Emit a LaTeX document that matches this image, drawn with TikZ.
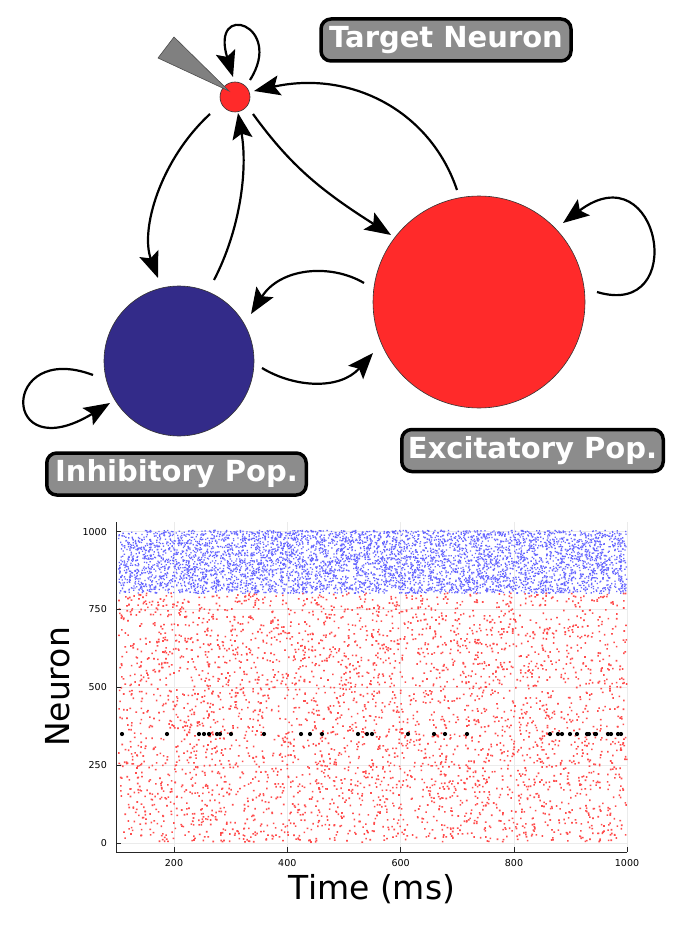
\documentclass[tikz,border=0pt]{standalone}
\usepackage{fontspec}
\setmainfont{DejaVu Sans}
\newfontfamily\labfont{DejaVu Sans Bold}
\usetikzlibrary{arrows.meta}
\definecolor{nred}{RGB}{255,42,42}
\definecolor{nblue}{RGB}{51,43,137}
\definecolor{labgray}{RGB}{140,140,140}
\definecolor{elgray}{RGB}{128,128,128}
\makeatletter
% draws #1 random squares of side #6 (pt) in x in [#2,#2+#3], y in [#4,#4+#5] (pixel coords, y down), colour #7 (rgb)
\newcommand\rasterchunk[7]{%
  \gdef\rc@acc{}%
  \foreach \rc@k in {1,...,#1}{%
    \pgfmathsetmacro\rc@x{(#2+#3*rnd)*0.99626}%
    \pgfmathsetmacro\rc@y{-(#4+#5*rnd)*0.99626}%
    \xdef\rc@acc{\rc@acc\space\rc@x\space\rc@y\space #6\space #6\space re}%
  }%
  \pgfsys@invoke{q #7 rg \rc@acc\space f Q}%
}
\makeatother
\tikzset{
  conn/.style={line width=2.2pt, -{Stealth[length=26pt,width=20pt,inset=5pt]}},
  poplabel/.style={draw=black, line width=3.5pt, fill=labgray, rounded corners=10pt,
    text=white, font=\labfont\fontsize{29}{31}\selectfont, inner sep=0pt,
    minimum height=42pt, align=center},
  popnode/.style={circle, draw=black!80, line width=0.6pt, inner sep=0pt},
  gridln/.style={draw=black!8, line width=0.6pt},
  ticklab/.style={font=\fontsize{9.5}{11}\selectfont, inner sep=0pt},
  axlab/.style={font=\fontsize{33}{36}\selectfont, inner sep=0pt}
}
\begin{document}
\begin{tikzpicture}[x=1pt,y=-1pt]
\useasboundingbox (0,0) rectangle (682,928);
\fill[white] (0,0) rectangle (682,928);

% ---------- network diagram ----------
\node[popnode, fill=nred, minimum size=30pt] (tn) at (235,97) {};
\node[popnode, fill=nred, minimum size=212pt] (exc) at (479,302) {};
\node[popnode, fill=nblue, minimum size=150pt] (inh) at (179,361) {};

% electrode
\filldraw[fill=elgray, draw=black!70, line width=0.6pt] (158,58) -- (174,37) -- (229,91) -- cycle;

% coordinates for connector ends
\coordinate (tnS1) at (250,80);   \coordinate (tnE1) at (233,77);
\coordinate (excT) at (457,190);  \coordinate (tnR)  at (254,91);
\coordinate (tnBR) at (253,114);  \coordinate (excTL) at (391,235);
\coordinate (tnBL) at (210,114);  \coordinate (inhT) at (158,278);
\coordinate (inhTR) at (214,280); \coordinate (tnB) at (238,113);
\coordinate (excL) at (364,283);  \coordinate (inhR) at (251,314);
\coordinate (inhBR) at (262,368); \coordinate (excBL) at (373,353);
\coordinate (excR) at (597,292);  \coordinate (excTR) at (563,223);
\coordinate (inhL) at (93,375);   \coordinate (inhBL) at (110,403);

\draw[conn] (tnS1) .. controls (285,25) and (210,0) .. (tnE1);
\draw[conn] (excT) .. controls (430,110) and (350,70) .. (tnR);
\draw[conn] (tnBR) .. controls (290,165) and (320,190) .. (excTL);
\draw[conn] (tnBL) .. controls (160,160) and (140,230) .. (inhT);
\draw[conn] (inhTR) .. controls (240,230) and (248,170) .. (tnB);
\draw[conn] (excL) .. controls (330,263) and (280,268) .. (inhR);
\draw[conn] (inhBR) .. controls (295,388) and (340,390) .. (excBL);
\draw[conn] (excR) .. controls (690,320) and (660,150) .. (excTR);
\draw[conn] (inhL) .. controls (0,340) and (0,470) .. (inhBL);

% labels
\node[poplabel, minimum width=250pt] (ltn) at (446,40) {Target Neuron};
\node[poplabel, minimum width=259.5pt] (linh) at (176.5,474) {Inhibitory Pop.};
\node[poplabel, minimum width=261.5pt] (lexc) at (532.5,450.5) {Excitatory Pop.};

% ---------- raster plot ----------
\foreach \gx in {174,287.3,400.7,514,627} \draw[gridln] (\gx,522) -- (\gx,852);
\foreach \gy in {843,765,687,609,531} \draw[gridln] (116,\gy) -- (627,\gy);

\pgfmathsetseed{7}
\foreach \c in {1,...,55} {\rasterchunk{100}{118}{508}{531}{63}{1.3}{0.4 0.4 1}}
\foreach \c in {1,...,38} {\rasterchunk{100}{118}{508}{594}{249}{1.6}{1 0.3 0.3}}

% target neuron spikes
\foreach \sx in {122,167,199,204,209,217,220,231,264,301,310,322,358,367,372,408,434,445,467,550,558,562,570,577,587,589,595,596,608,611,618,621}
  \fill[black] (\sx,734) circle (2.1);

% axes
\draw[black!85, line width=1pt] (116,522) -- (116,852) -- (627,852);
\foreach \gx in {174,287.3,400.7,514,627} \draw[black!85, line width=0.8pt] (\gx,852) -- (\gx,847);
\foreach \gy in {843,765,687,609,531} \draw[black!85, line width=0.8pt] (116,\gy) -- (121,\gy);

% tick labels
\node[ticklab, anchor=east] (y0) at (107,843) {0};
\node[ticklab, anchor=east] (y250) at (107,765) {250};
\node[ticklab, anchor=east] (y500) at (107,687) {500};
\node[ticklab, anchor=east] (y750) at (107,609) {750};
\node[ticklab, anchor=east] (y1000) at (107,532) {1000};
\node[ticklab] (x200) at (174,863) {200};
\node[ticklab] (x400) at (287.3,863) {400};
\node[ticklab] (x600) at (400.7,863) {600};
\node[ticklab] (x800) at (514,863) {800};
\node[ticklab] (x1000) at (627,863) {1000};

\node[axlab] (xl) at (372,889) {Time (ms)};
\node[axlab, rotate=90] (yl) at (58,687) {Neuron};
\end{tikzpicture}
\end{document}
